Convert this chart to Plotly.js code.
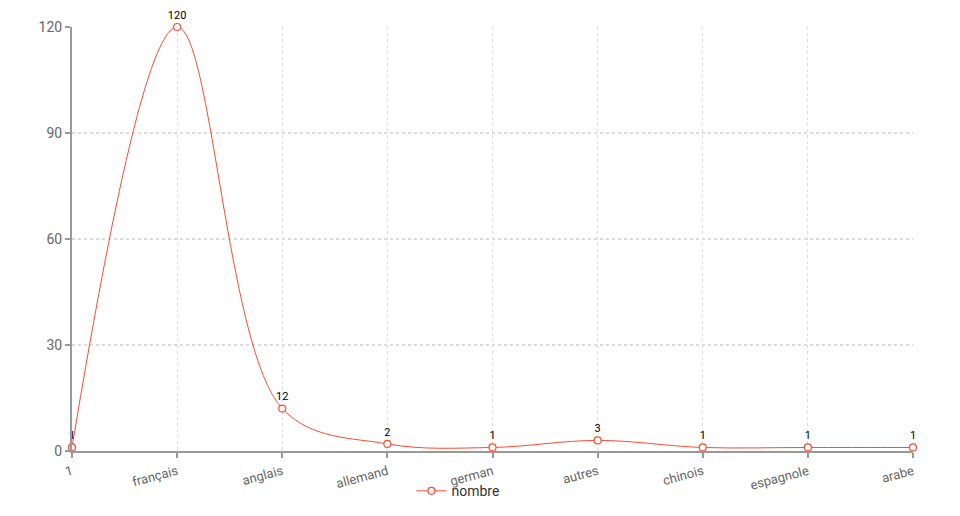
<!DOCTYPE html>
<html>
<head>
<meta charset="utf-8">
<script src="https://cdn.plot.ly/plotly-3.0.1.min.js"></script>
<style>html,body{margin:0;padding:0;background:#fff;}#chart{width:960px;height:516px;}</style>
</head>
<body>
<div id="chart"></div>
<script>
const categories = ["1", "français", "anglais", "allemand", "german", "autres", "chinois", "espagnole", "arabe"];
const nombre = [1, 120, 12, 2, 1, 3, 1, 1, 1];
const yTicks = [0, 30, 60, 90, 120];
const seriesName = "nombre";

const trace = {
  x: categories,
  y: nombre,
  name: seriesName,
  type: "scatter",
  mode: "lines+markers+text",
  text: nombre.map(String),
  textposition: "top center",
  textfont: {family: "Roboto, sans-serif", size: 11, color: "#000000"},
  cliponaxis: false,
  line: {color: "#fc4b33", width: 1, shape: "spline", smoothing: 1},
  marker: {symbol: "circle", size: 7, color: "#ffffff", line: {color: "#fc4b33", width: 1.2}}
};

const layout = {
  width: 960, height: 516,
  margin: {l: 72, r: 47, t: 27, b: 65, autoexpand: false},
  paper_bgcolor: "#fff", plot_bgcolor: "#fff",
  font: {family: "Roboto, sans-serif", color: "#666"},
  showlegend: true,
  legend: {orientation: "h", x: 0.477, xanchor: "center", xref: "container",
           y: 0.048, yanchor: "middle", yref: "container",
           font: {size: 14, color: "#333"}, itemwidth: 30, bgcolor: "rgba(0,0,0,0)"},
  xaxis: {
    type: "category", range: [0, categories.length - 1], automargin: false,
    showgrid: true, gridcolor: "#dcdcdc", griddash: "3px,3px", gridwidth: 1.2,
    showline: true, linecolor: "#999", linewidth: 2,
    ticks: "outside", ticklen: 5, tickcolor: "#999", tickwidth: 2,
    tickangle: -15, tickfont: {size: 13, color: "#666"}, ticklabelstandoff: 1,
    zeroline: false, fixedrange: true
  },
  yaxis: {
    range: [0, 120], tickvals: yTicks, automargin: false,
    showgrid: true, gridcolor: "#dcdcdc", griddash: "3px,3px", gridwidth: 1.2,
    showline: true, linecolor: "#999", linewidth: 2,
    ticks: "outside", ticklen: 5, tickcolor: "#999", tickwidth: 2,
    tickfont: {size: 14, color: "#666"},
    zeroline: false, fixedrange: true
  }
};

Plotly.newPlot("chart", [trace], layout, {displayModeBar: false, staticPlot: true});
</script>
</body>
</html>
